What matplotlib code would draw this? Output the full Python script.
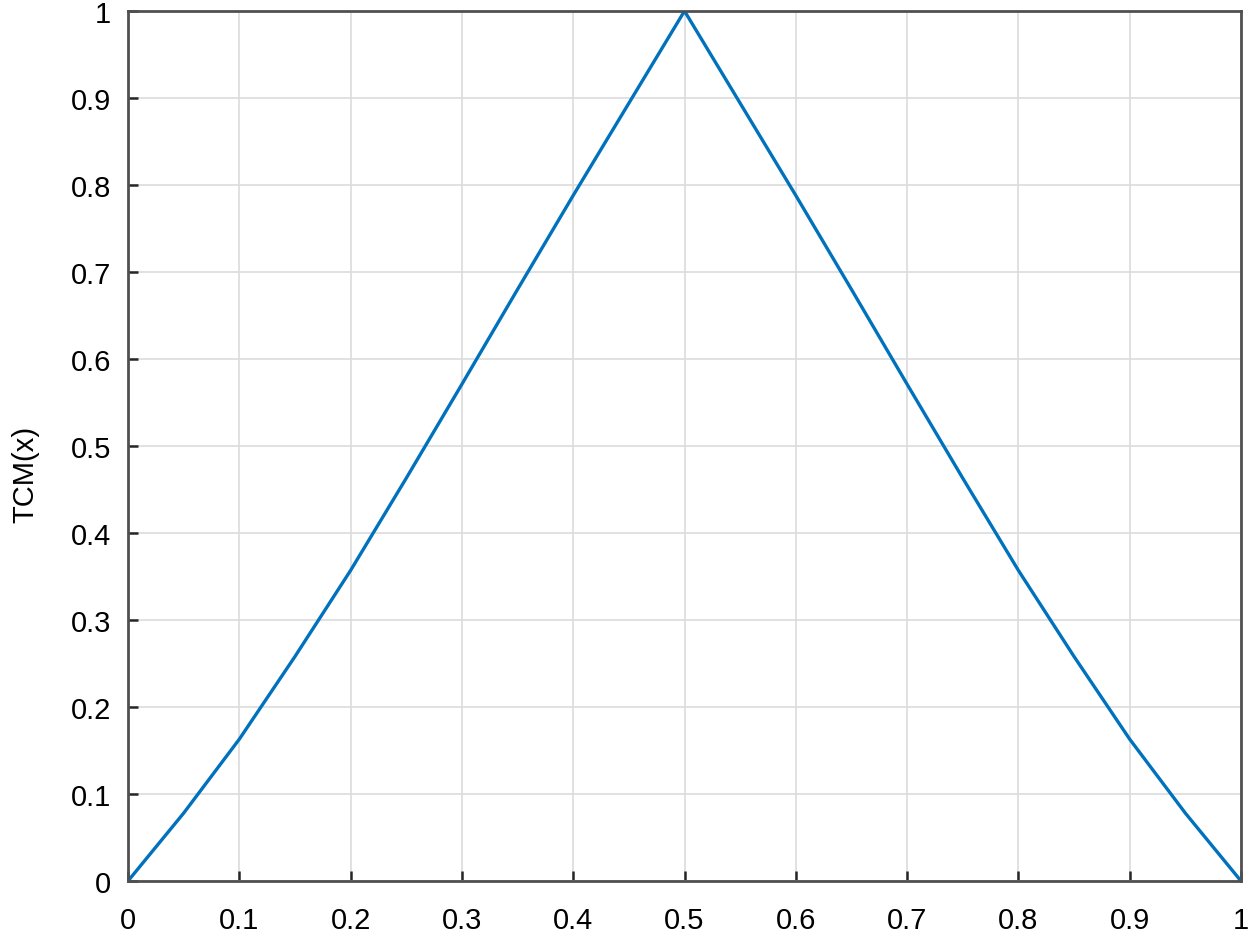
import numpy as np
import matplotlib.pyplot as plt

# curve (symmetric about x = 0.5)
x_vals = [0.0, 0.05, 0.1, 0.15, 0.2, 0.25, 0.3, 0.35, 0.4, 0.45, 0.5,
          0.55, 0.6, 0.65, 0.7, 0.75, 0.8, 0.85, 0.9, 0.95, 1.0]
tcm_vals = [0.0, 0.078, 0.163, 0.258, 0.357, 0.463, 0.571, 0.680, 0.788, 0.894, 1.0,
            0.894, 0.788, 0.680, 0.571, 0.463, 0.357, 0.258, 0.163, 0.078, 0.0]
x_ticks = [0, 0.1, 0.2, 0.3, 0.4, 0.5, 0.6, 0.7, 0.8, 0.9, 1]
x_ticklabels = ['0', '0.1', '0.2', '0.3', '0.4', '0.5', '0.6', '0.7', '0.8', '0.9', '1']

plt.rcParams['font.family'] = ['Liberation Sans', 'DejaVu Sans']

fig = plt.figure(figsize=(12.5, 9.37), dpi=100)
ax = fig.add_axes([0.1024, 0.0587, 0.8904, 0.9285])

ax.plot(x_vals, tcm_vals, color='#0072BD', lw=2.4)

ax.set_xlim(0, 1)
ax.set_ylim(0, 1)
ax.set_xticks(x_ticks)
ax.set_xticklabels(x_ticklabels)
ax.set_yticks(x_ticks)
ax.set_yticklabels(x_ticklabels)
ax.tick_params(direction='in', length=7, width=1.8, labelsize=21, color='#262626',
               top=False, right=False)
ax.tick_params(axis='x', pad=18)
ax.tick_params(axis='y', pad=12)
ax.grid(True, color='#dcdcdc', lw=1.2)
for s in ax.spines.values():
    s.set_color('#505050')
    s.set_linewidth(2)
ax.set_ylabel('TCM(x)', fontsize=21, va='center')
ax.yaxis.set_label_coords(-0.092, 0.468)

fig.savefig('out.png', dpi=100)
